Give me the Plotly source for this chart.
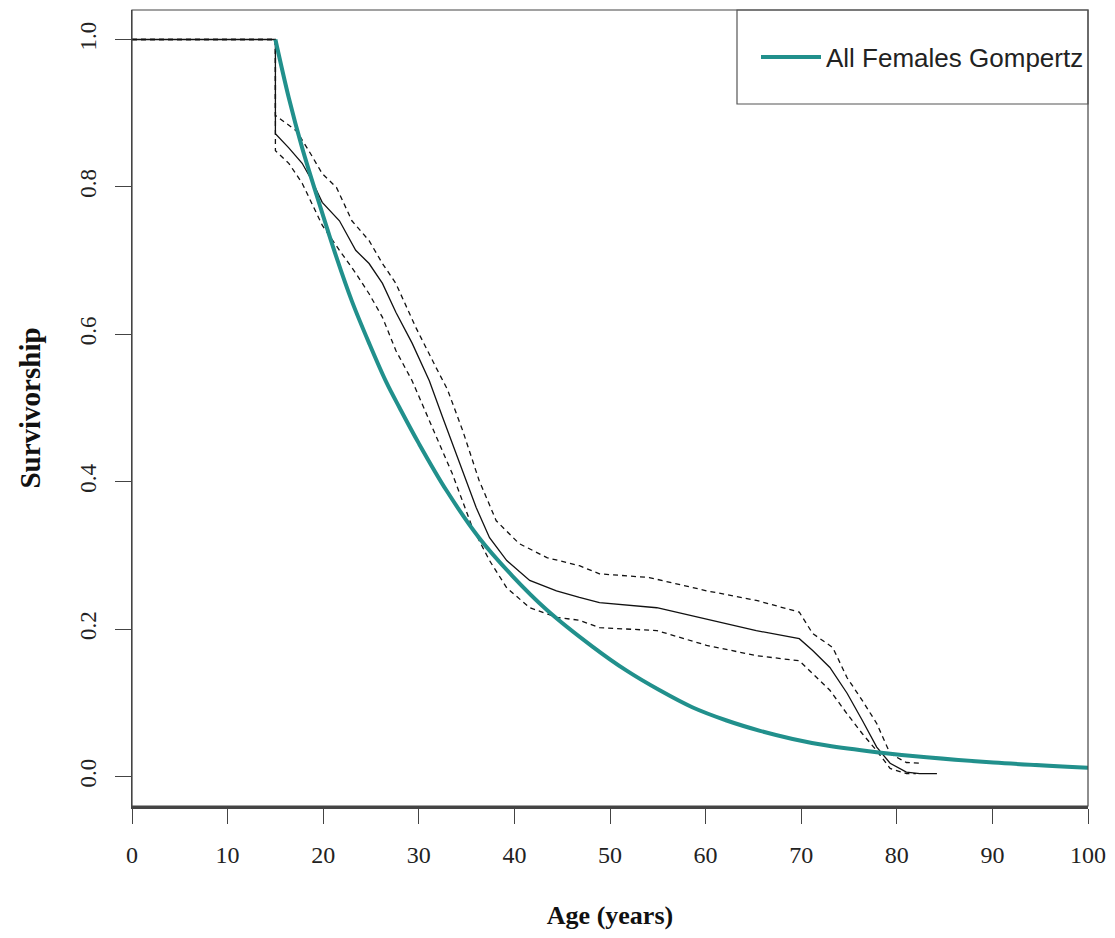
import plotly.graph_objects as go

# Kaplan-Meier estimate (solid) and its confidence bounds (dashed)
km_age = [0, 15, 15, 16.4, 17.8, 18.8, 19.9, 21.7, 23.4, 24.8, 26.2, 27.6, 29.3, 31.1, 32.5,
          34.2, 36.0, 37.4, 39.2, 41.6, 44.4, 46.8, 48.9, 54.9, 60.1, 65.3, 69.8, 71.2,
          73.0, 74.8, 76.4, 77.9, 79.3, 81.0, 82.4, 84.2]
km_surv = [1.0, 1.0, 0.872, 0.853, 0.832, 0.809, 0.779, 0.754, 0.714, 0.696, 0.669, 0.630,
           0.588, 0.537, 0.487, 0.429, 0.365, 0.324, 0.293, 0.266, 0.252, 0.243, 0.236,
           0.229, 0.214, 0.198, 0.187, 0.171, 0.148, 0.113, 0.076, 0.040, 0.018, 0.006,
           0.004, 0.004]

upper_age = [0, 15, 15, 17.2, 18.5, 19.9, 21.4, 23.0, 24.8, 26.2, 27.6, 29.7, 31.8, 33.0,
             34.6, 36.3, 38.1, 40.5, 43.4, 46.8, 48.9, 54.1, 60.1, 65.3, 69.8, 71.2, 73.3,
             74.8, 76.4, 77.9, 79.3, 81.0, 82.4]
upper_surv = [1.0, 1.0, 0.897, 0.876, 0.849, 0.818, 0.799, 0.754, 0.727, 0.696, 0.669,
              0.609, 0.555, 0.525, 0.469, 0.402, 0.347, 0.316, 0.297, 0.286, 0.275, 0.270,
              0.252, 0.239, 0.223, 0.194, 0.175, 0.134, 0.103, 0.072, 0.031, 0.019, 0.018]

lower_age = [0, 15, 15, 16.4, 17.8, 18.8, 19.9, 21.7, 23.4, 24.8, 26.2, 27.6, 29.3, 31.4,
             33.5, 35.6, 37.4, 39.2, 41.6, 44.4, 46.8, 48.9, 54.9, 60.1, 65.3, 69.8, 71.2,
             73.0, 74.8, 76.4, 77.9, 79.3, 81.0, 82.0]
lower_surv = [1.0, 1.0, 0.849, 0.832, 0.805, 0.777, 0.748, 0.714, 0.683, 0.655, 0.623,
              0.578, 0.537, 0.474, 0.411, 0.338, 0.293, 0.256, 0.229, 0.216, 0.212, 0.202,
              0.198, 0.178, 0.164, 0.157, 0.140, 0.117, 0.085, 0.058, 0.035, 0.011, 0.004,
              0.004]

# Fitted Gompertz curve
gomp_age = [15, 16.4, 17.8, 19.6, 21.4, 23.0, 24.8, 26.6, 28.0, 30.0, 32.9, 36.3, 39.8,
            43.4, 48.2, 51.7, 55.2, 58.6, 62.2, 65.7, 69.1, 72.7, 77.9, 83.1, 90.1, 100]
gomp_surv = [1.0, 0.921, 0.853, 0.777, 0.704, 0.645, 0.588, 0.535, 0.500, 0.452, 0.388,
             0.324, 0.272, 0.226, 0.176, 0.144, 0.117, 0.094, 0.076, 0.062, 0.051,
             0.042, 0.033, 0.026, 0.019, 0.012]

legend_label = "All Females Gompertz"
x_ticks = [0, 10, 20, 30, 40, 50, 60, 70, 80, 90, 100]
y_ticks = [0.0, 0.2, 0.4, 0.6, 0.8, 1.0]
y_tick_text = ["0.0", "0.2", "0.4", "0.6", "0.8", "1.0"]

TEAL = "#21908C"
AXC = "#444444"
SERIF = "Liberation Serif"

fig = go.Figure()
fig.add_trace(go.Scatter(x=upper_age, y=upper_surv, mode="lines", showlegend=False,
                         line=dict(color="#111111", width=1.3, dash="5px,4px")))
fig.add_trace(go.Scatter(x=lower_age, y=lower_surv, mode="lines", showlegend=False,
                         line=dict(color="#111111", width=1.3, dash="5px,4px")))
fig.add_trace(go.Scatter(x=km_age, y=km_surv, mode="lines", showlegend=False,
                         line=dict(color="#111111", width=1.3)))
fig.add_trace(go.Scatter(x=gomp_age, y=gomp_surv, mode="lines", name=legend_label,
                         line=dict(color=TEAL, width=4, shape="spline", smoothing=1.0)))

# the page body adds an 8px offset; the figure is sized so the plot lands where the reference has it
OFF = 8
W, H = 1115 - OFF, 938 - OFF
L, R, T, B = 124, 27, 2, 132
pw, ph = W - L - R, H - T - B


def px(p):  # page pixel x -> paper x
    return (p - OFF - L) / pw


def py(q):  # page pixel y -> paper y
    return (H - B - (q - OFF)) / ph


fig.update_layout(
    width=W, height=H,
    margin=dict(l=L, r=R, t=T, b=B),
    paper_bgcolor="white", plot_bgcolor="white",
    font=dict(family=SERIF, size=22, color="#222222"),
    showlegend=True,
    legend=dict(x=px(756), y=py(57), xanchor="left", yanchor="middle", itemwidth=60,
                bgcolor="rgba(0,0,0,0)", borderwidth=0,
                font=dict(family="Liberation Sans", size=26, color="#222222")),
    xaxis=dict(range=[0, 100], tickmode="array", tickvals=x_ticks,
               ticks="outside", ticklen=15, tickwidth=1, tickcolor=AXC,
               showline=True, linecolor=AXC, linewidth=2.5, showgrid=False,
               zeroline=False, ticklabelstandoff=10,
               tickfont=dict(family=SERIF, size=24, color="#222222"),
               title=dict(text="Age (years)", standoff=40,
                          font=dict(family=SERIF, size=26, weight="bold", color="#111111"))),
    yaxis=dict(range=[-0.04, 1.04], tickmode="array", tickvals=y_ticks, ticktext=y_tick_text,
               ticks="outside", ticklen=16, tickwidth=1, tickcolor=AXC,
               showline=True, linecolor=AXC, linewidth=1.2, showgrid=False,
               zeroline=False, tickangle=-90, ticklabelstandoff=10,
               tickfont=dict(family=SERIF, size=23, color="#222222"),
               title=dict(text="Survivorship", standoff=26,
                          font=dict(family=SERIF, size=29, weight="bold", color="#111111"))),
    shapes=[
        dict(type="rect", xref="paper", yref="paper", x0=0, x1=1, y0=0, y1=1,
             line=dict(color=AXC, width=1.2), layer="above"),
        dict(type="rect", xref="paper", yref="paper", x0=px(737), x1=1, y0=py(104), y1=1,
             line=dict(color="#555555", width=1.2), fillcolor="rgba(0,0,0,0)", layer="above"),
    ],
)

fig.write_html("out.html")
